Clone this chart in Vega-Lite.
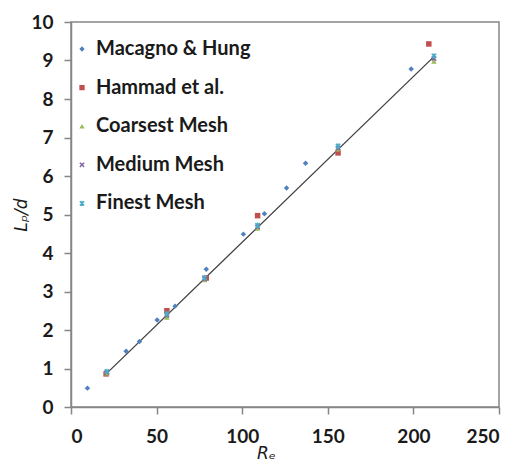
{
  "$schema": "https://vega.github.io/schema/vega-lite/v6.json",
  "width": 428,
  "height": 385,
  "autosize": {"type": "none"},
  "padding": {"left": 71, "top": 22, "right": 19, "bottom": 58},
  "config": {
    "view": {"stroke": "#868686", "strokeWidth": 1.5},
    "font": "Lato",
    "axis": {
      "grid": false,
      "domainColor": "#868686",
      "domainWidth": 1.5,
      "tickColor": "#868686",
      "tickWidth": 1.5,
      "tickSize": 7,
      "labelFont": "Lato",
      "labelFontSize": 19,
      "labelFontWeight": "bold",
      "labelColor": "#1a1a1a",
      "labelOverlap": false,
      "titleFont": "DejaVu Sans",
      "titleFontSize": 17,
      "titleFontWeight": "normal",
      "titleFontStyle": "italic",
      "titleColor": "#1a1a1a"
    }
  },
  "datasets": {
    "points": [
      {"series": "Macagno & Hung", "Re": 9.6, "L": 0.49},
      {"series": "Macagno & Hung", "Re": 32.2, "L": 1.45},
      {"series": "Macagno & Hung", "Re": 40, "L": 1.70},
      {"series": "Macagno & Hung", "Re": 50.3, "L": 2.26},
      {"series": "Macagno & Hung", "Re": 60.8, "L": 2.62},
      {"series": "Macagno & Hung", "Re": 79, "L": 3.58},
      {"series": "Macagno & Hung", "Re": 100.7, "L": 4.49},
      {"series": "Macagno & Hung", "Re": 113, "L": 5.02},
      {"series": "Macagno & Hung", "Re": 125.9, "L": 5.69},
      {"series": "Macagno & Hung", "Re": 137, "L": 6.33},
      {"series": "Macagno & Hung", "Re": 198.7, "L": 8.78},
      {"series": "Hammad et al.", "Re": 20.5, "L": 0.86},
      {"series": "Hammad et al.", "Re": 56, "L": 2.5},
      {"series": "Hammad et al.", "Re": 79, "L": 3.35},
      {"series": "Hammad et al.", "Re": 109, "L": 4.97},
      {"series": "Hammad et al.", "Re": 156, "L": 6.6},
      {"series": "Hammad et al.", "Re": 209, "L": 9.43},
      {"series": "Coarsest Mesh", "Re": 21, "L": 0.88},
      {"series": "Coarsest Mesh", "Re": 56, "L": 2.33},
      {"series": "Coarsest Mesh", "Re": 78, "L": 3.30},
      {"series": "Coarsest Mesh", "Re": 109, "L": 4.64},
      {"series": "Coarsest Mesh", "Re": 156, "L": 6.70},
      {"series": "Coarsest Mesh", "Re": 212, "L": 8.98},
      {"series": "Medium Mesh", "Re": 21, "L": 0.90},
      {"series": "Medium Mesh", "Re": 56, "L": 2.38},
      {"series": "Medium Mesh", "Re": 78, "L": 3.33},
      {"series": "Medium Mesh", "Re": 109, "L": 4.68},
      {"series": "Medium Mesh", "Re": 156, "L": 6.73},
      {"series": "Medium Mesh", "Re": 212, "L": 9.05},
      {"series": "Finest Mesh", "Re": 21, "L": 0.92},
      {"series": "Finest Mesh", "Re": 56, "L": 2.42},
      {"series": "Finest Mesh", "Re": 78, "L": 3.36},
      {"series": "Finest Mesh", "Re": 109, "L": 4.72},
      {"series": "Finest Mesh", "Re": 156, "L": 6.78},
      {"series": "Finest Mesh", "Re": 212, "L": 9.12}
    ],
    "fit": [
      {"Re": 21, "L": 0.88},
      {"Re": 212, "L": 9.1}
    ]
  },
  "encoding": {
    "x": {
      "field": "Re", "type": "quantitative",
      "scale": {"domain": [0, 250], "nice": false},
      "axis": {"values": [0, 50, 100, 150, 200, 250], "title": "Rₑ", "labelPadding": 13, "titleX": 195, "titleY": 46, "titleBaseline": "middle"}
    },
    "y": {
      "field": "L", "type": "quantitative",
      "scale": {"domain": [0, 10], "nice": false},
      "axis": {"values": [0, 1, 2, 3, 4, 5, 6, 7, 8, 9, 10], "tickCount": 11, "title": "Lₚ/d", "labelPadding": 11, "titlePadding": 0}
    }
  },
  "layer": [
    {
      "data": {"name": "fit"},
      "mark": {"type": "line", "color": "#404040", "strokeWidth": 1.3}
    },
    {
      "data": {"name": "points"},
      "mark": {"type": "point", "filled": true, "opacity": 1, "size": 30},
      "encoding": {
        "color": {
          "field": "series", "type": "nominal",
          "scale": {
            "domain": ["Macagno & Hung", "Hammad et al.", "Coarsest Mesh", "Medium Mesh", "Finest Mesh"],
            "range": ["#4F81BD", "#C0504D", "#9BBB59", "#8064A2", "#4BACC6"]
          },
          "legend": {
            "title": null,
            "orient": "none",
            "legendX": 1,
            "legendY": 17,
            "padding": 0,
            "labelFont": "Lato",
            "labelFontSize": 20,
            "labelFontWeight": "bold",
            "labelColor": "#1a1a1a",
            "symbolSize": 28,
            "rowPadding": 18.6,
            "labelOffset": 4
          }
        },
        "shape": {
          "field": "series", "type": "nominal",
          "scale": {
            "domain": ["Macagno & Hung", "Hammad et al.", "Coarsest Mesh", "Medium Mesh", "Finest Mesh"],
            "range": ["diamond", "square", "triangle-up", "M-1,-0.6L-0.6,-1L0,-0.4L0.6,-1L1,-0.6L0.4,0L1,0.6L0.6,1L0,0.4L-0.6,1L-1,0.6L-0.4,0Z", "M-1,-0.6L-0.6,-1L0,-0.4L0.6,-1L1,-0.6L0.4,0L1,0.6L0.6,1L0,0.4L-0.6,1L-1,0.6L-0.4,0Z M-0.2,-1L0.2,-1L0.2,1L-0.2,1Z"]
          }
        }
      }
    }
  ]
}
